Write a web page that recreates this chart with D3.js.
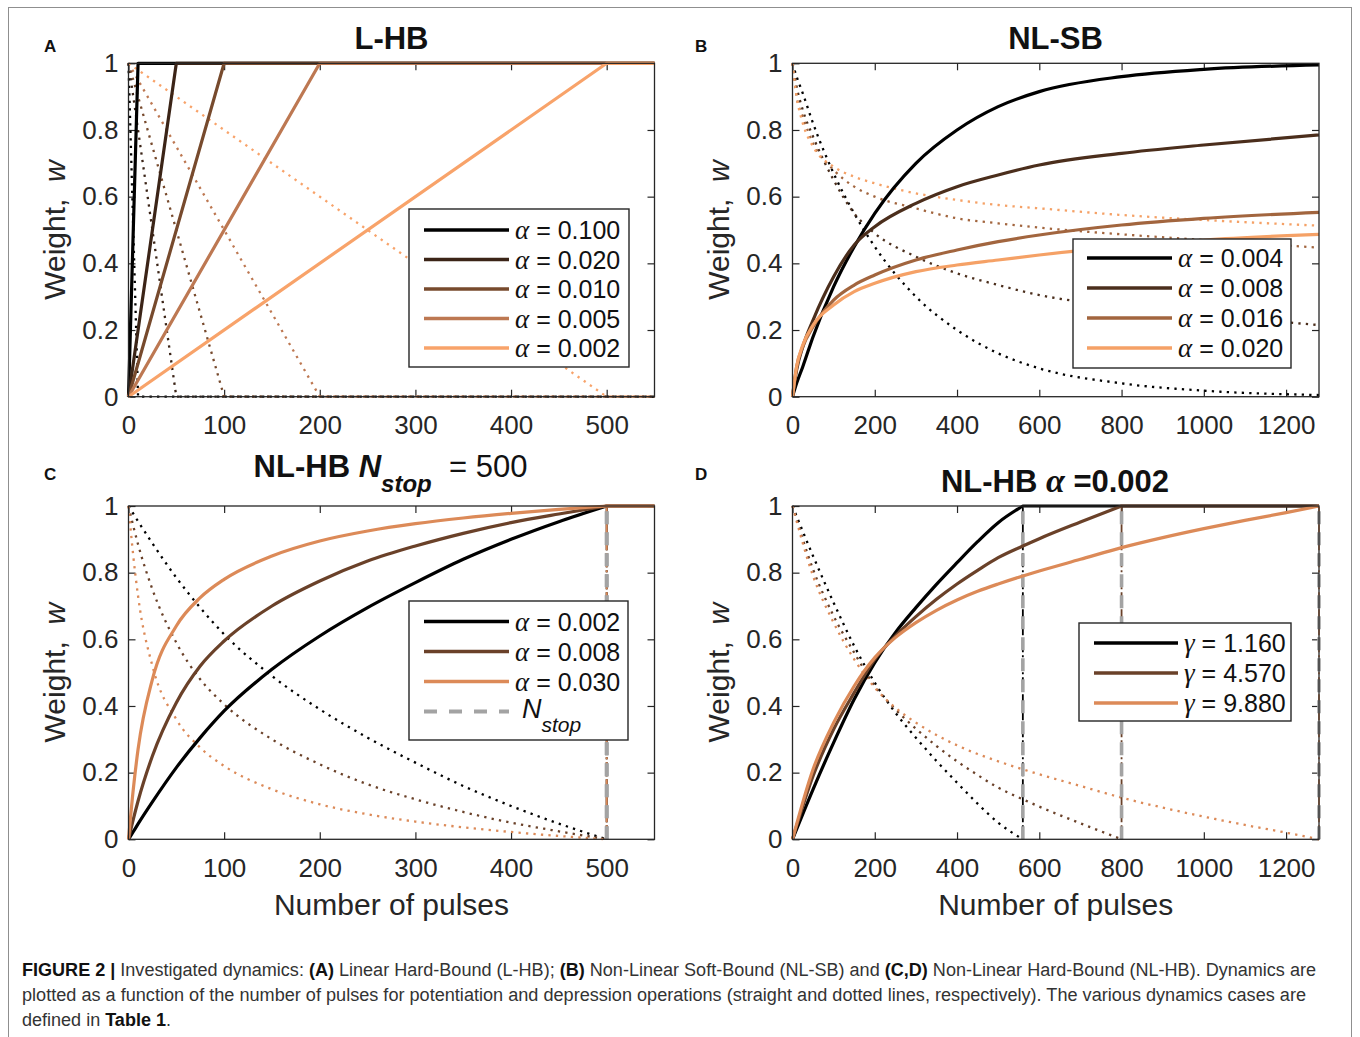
<!DOCTYPE html>
<html>
<head>
<meta charset="utf-8">
<script src="https://cdn.jsdelivr.net/npm/d3@7"></script>
<style>
  body { margin: 0; background: #fff; }
  svg { display: block; }
  text { font-family: "Liberation Sans", Arial, Helvetica, sans-serif; }
</style>
</head>
<body>
<svg id="fig" width="1360" height="1037"></svg>
<script>
// ---------- shared ticks ----------
const yTicks = [0, 0.2, 0.4, 0.6, 0.8, 1];
const shortXTicks = [0, 100, 200, 300, 400, 500];
const longXTicks = [0, 200, 400, 600, 800, 1000, 1200];
const shortXMax = 550;
const longXMax = 1280;

// ---------- (A) Linear Hard-Bound ----------
const lhbAlpha = ["0.100", "0.020", "0.010", "0.005", "0.002"];
const lhbPotentiation = [
  [[0, 0], [10, 1], [550, 1]],
  [[0, 0], [50, 1], [550, 1]],
  [[0, 0], [100, 1], [550, 1]],
  [[0, 0], [200, 1], [550, 1]],
  [[0, 0], [500, 1], [550, 1]]
];
const lhbDepression = [
  [[0, 1], [10, 0], [550, 0]],
  [[0, 1], [50, 0], [550, 0]],
  [[0, 1], [100, 0], [550, 0]],
  [[0, 1], [200, 0], [550, 0]],
  [[0, 1], [500, 0], [550, 0]]
];

// ---------- (B) Non-Linear Soft-Bound ----------
const nlsbAlpha = ["0.004", "0.008", "0.016", "0.020"];
const nlsbPulses = [0, 10, 25, 50, 100, 150, 200, 300, 400, 500, 600, 800, 1000, 1280];
const nlsbPot004 = [0, 0.04, 0.09, 0.18, 0.33, 0.45, 0.55, 0.70, 0.80, 0.87, 0.915, 0.96, 0.982, 0.995];
const nlsbPot008 = [0, 0.08, 0.15, 0.23, 0.36, 0.455, 0.51, 0.58, 0.63, 0.665, 0.695, 0.73, 0.755, 0.785];
const nlsbPot016 = [0, 0.09, 0.15, 0.21, 0.29, 0.335, 0.365, 0.41, 0.44, 0.465, 0.485, 0.515, 0.535, 0.553];
const nlsbPot020 = [0, 0.09, 0.155, 0.215, 0.275, 0.315, 0.34, 0.375, 0.395, 0.41, 0.425, 0.45, 0.47, 0.487];
const nlsbDep004 = [1, 0.96, 0.91, 0.82, 0.67, 0.55, 0.45, 0.30, 0.20, 0.13, 0.085, 0.04, 0.018, 0.005];
const nlsbDep008 = [1, 0.93, 0.86, 0.78, 0.65, 0.55, 0.49, 0.42, 0.37, 0.335, 0.305, 0.27, 0.245, 0.215];
const nlsbDep016 = [1, 0.90, 0.84, 0.76, 0.68, 0.63, 0.60, 0.565, 0.535, 0.52, 0.507, 0.487, 0.47, 0.447];
const nlsbDep020 = [1, 0.90, 0.82, 0.75, 0.69, 0.66, 0.64, 0.61, 0.59, 0.575, 0.565, 0.545, 0.53, 0.513];

// ---------- (C) Non-Linear Hard-Bound, N_stop = 500 ----------
const nstopValue = 500;
const nstopAlpha = ["0.002", "0.008", "0.030"];
const nstopPulses = [0, 5, 10, 25, 50, 75, 100, 150, 200, 250, 300, 350, 400, 450, 500, 550];
const nstopPot002 = [0, 0.023, 0.046, 0.112, 0.215, 0.305, 0.385, 0.51, 0.61, 0.695, 0.77, 0.84, 0.90, 0.953, 1, 1];
const nstopPot008 = [0, 0.06, 0.115, 0.25, 0.41, 0.52, 0.595, 0.70, 0.775, 0.835, 0.88, 0.918, 0.95, 0.976, 1, 1];
const nstopPot030 = [0, 0.15, 0.27, 0.48, 0.64, 0.725, 0.78, 0.85, 0.895, 0.925, 0.947, 0.964, 0.978, 0.99, 1, 1];
const nstopDep002 = [1, 0.977, 0.954, 0.888, 0.785, 0.695, 0.615, 0.49, 0.39, 0.305, 0.23, 0.16, 0.10, 0.047, 0, 0];
const nstopDep008 = [1, 0.94, 0.885, 0.75, 0.59, 0.48, 0.405, 0.30, 0.225, 0.165, 0.12, 0.082, 0.05, 0.024, 0, 0];
const nstopDep030 = [1, 0.85, 0.73, 0.52, 0.36, 0.275, 0.22, 0.15, 0.105, 0.075, 0.053, 0.036, 0.022, 0.01, 0, 0];

// ---------- (D) Non-Linear Hard-Bound, alpha = 0.002 ----------
const gammaValues = ["1.160", "4.570", "9.880"];
const gammaStops = [560, 800, 1280];
const gammaPulses = [0, 50, 100, 150, 200, 250, 300, 350, 400, 450, 500, 560, 600, 700, 800, 900, 1000, 1100, 1200, 1280];
const gammaPot116 = [0, 0.15, 0.29, 0.42, 0.53, 0.62, 0.695, 0.765, 0.83, 0.893, 0.95, 1, 1, 1, 1, 1, 1, 1, 1, 1];
const gammaPot457 = [0, 0.19, 0.33, 0.44, 0.54, 0.61, 0.668, 0.72, 0.766, 0.807, 0.845, 0.88, 0.902, 0.952, 1, 1, 1, 1, 1, 1];
const gammaPot988 = [0, 0.21, 0.35, 0.46, 0.545, 0.605, 0.65, 0.687, 0.718, 0.744, 0.766, 0.79, 0.805, 0.84, 0.875, 0.905, 0.932, 0.957, 0.98, 1];
const gammaDep116 = [1, 0.85, 0.71, 0.58, 0.47, 0.38, 0.305, 0.235, 0.17, 0.107, 0.05, 0, 0, 0, 0, 0, 0, 0, 0, 0];
const gammaDep457 = [1, 0.81, 0.67, 0.56, 0.46, 0.39, 0.332, 0.28, 0.234, 0.193, 0.155, 0.12, 0.098, 0.048, 0, 0, 0, 0, 0, 0];
const gammaDep988 = [1, 0.79, 0.65, 0.54, 0.455, 0.395, 0.35, 0.313, 0.282, 0.256, 0.234, 0.21, 0.195, 0.16, 0.125, 0.095, 0.068, 0.043, 0.02, 0];

// ---------- styling ----------
const AXIS = "#262626";
const lhbPalette = ["#000000", "#3b2417", "#774a2d", "#bd7852", "#f8a36a"];
const nlsbPalette = ["#000000", "#4b2e1c", "#a2653e", "#f5a166"];
const nlhbPalette = ["#000000", "#6a4129", "#dc8a58"];
const STOP_GREY = "#a3a3a3";
const TICK_FONT = 26;
const LABEL_FONT = 30;
const TITLE_FONT = 31;
const LEG_FONT = 25;

const svg = d3.select("#fig");
const zip = (xs, ys) => xs.map((v, i) => [v, ys[i]]);

// outer figure frame
svg.append("rect")
  .attr("x", 8.5).attr("y", 7.5).attr("width", 1343).attr("height", 1080)
  .attr("fill", "none").attr("stroke", "#8f8f8f").attr("stroke-width", 1);

const cols = [{ left: 128.5, right: 654.5 }, { left: 792.5, right: 1319 }];
const rows = [{ top: 63.3, bottom: 396.7 }, { top: 506, bottom: 839.3 }];

function makeAxes(col, row, xMax, xTicks, withXLabel) {
  const x = d3.scaleLinear().domain([0, xMax]).range([col.left, col.right]);
  const y = d3.scaleLinear().domain([0, 1]).range([row.bottom, row.top]);
  const g = svg.append("g");
  const yFmt = d => (d === 0 || d === 1) ? String(d) : d3.format(".1f")(d);

  const styleAxis = sel => {
    sel.select(".domain").remove();
    sel.selectAll(".tick line").attr("stroke", AXIS).attr("stroke-width", 1.2);
    sel.selectAll(".tick text").attr("fill", AXIS).attr("font-size", TICK_FONT)
      .attr("font-family", "'Liberation Sans', Arial, sans-serif");
  };
  g.append("g").attr("transform", `translate(0,${row.bottom})`)
    .call(d3.axisBottom(x).tickValues(xTicks).tickFormat(d3.format("d"))
      .tickSize(-7).tickPadding(19).tickSizeOuter(0))
    .call(styleAxis);
  g.append("g").attr("transform", `translate(0,${row.top})`)
    .call(d3.axisTop(x).tickValues(xTicks).tickSize(-7).tickFormat(() => "").tickSizeOuter(0))
    .call(styleAxis);
  g.append("g").attr("transform", `translate(${col.left},0)`)
    .call(d3.axisLeft(y).tickValues(yTicks).tickSize(-7).tickPadding(10).tickFormat(yFmt).tickSizeOuter(0))
    .call(styleAxis);
  g.append("g").attr("transform", `translate(${col.right},0)`)
    .call(d3.axisRight(y).tickValues(yTicks).tickSize(-7).tickFormat(() => "").tickSizeOuter(0))
    .call(styleAxis);

  // y label: "Weight,  w"
  const yl = g.append("text")
    .attr("transform", `translate(${col.left - 64},${(row.top + row.bottom) / 2}) rotate(-90)`)
    .attr("text-anchor", "middle").attr("font-size", LABEL_FONT).attr("fill", AXIS)
    .style("white-space", "pre");
  yl.append("tspan").text("Weight,  ");
  yl.append("tspan").attr("font-style", "italic").text("w");

  if (withXLabel) {
    g.append("text").attr("x", (col.left + col.right) / 2).attr("y", row.bottom + 76)
      .attr("text-anchor", "middle").attr("font-size", LABEL_FONT).attr("fill", AXIS)
      .text("Number of pulses");
  }
  const plot = svg.append("g");
  const frame = svg.append("g");
  frame.append("rect")
    .attr("x", col.left).attr("y", row.top)
    .attr("width", col.right - col.left).attr("height", row.bottom - row.top)
    .attr("fill", "none").attr("stroke", AXIS).attr("stroke-width", 1.3);
  return { x, y, g, plot, frame };
}

// A curve that reaches a bound (0 or 1) is smooth up to that point and flat afterwards.
function pathFor(ax, pts, curve) {
  const smooth = d3.line().x(d => ax.x(d[0])).y(d => ax.y(d[1])).curve(curve);
  const flat = d3.line().x(d => ax.x(d[0])).y(d => ax.y(d[1]));
  const bound = pts[0][1] === 0 ? 1 : 0;
  const k = pts.findIndex(d => d[1] === bound);
  if (k < 0 || k === pts.length - 1) return smooth(pts);
  return smooth(pts.slice(0, k + 1)) + flat([pts[k], pts[pts.length - 1]]).replace(/^M/, "L");
}

function drawLines(ax, seriesList, palette, dotted, curve) {
  seriesList.forEach((pts, i) => {
    ax.plot.append("path")
      .attr("d", pathFor(ax, pts, curve))
      .attr("fill", "none")
      .attr("stroke", palette[i])
      .attr("stroke-width", dotted ? 2.3 : 3.2)
      .attr("stroke-dasharray", dotted ? "2.3 5.2" : null)
      .attr("stroke-linejoin", "round");
  });
}

function drawStop(ax, xv, color) {
  ax.plot.append("line")
    .attr("x1", ax.x(xv)).attr("x2", ax.x(xv)).attr("y1", ax.y(0)).attr("y2", ax.y(1))
    .attr("stroke", color).attr("stroke-width", 1.8).attr("stroke-dasharray", "9 3 2 3");
  ax.plot.append("line")
    .attr("x1", ax.x(xv)).attr("x2", ax.x(xv)).attr("y1", ax.y(0)).attr("y2", ax.y(1))
    .attr("stroke", STOP_GREY).attr("stroke-width", 3.6).attr("stroke-dasharray", "13 8");
}

function drawLegend(box, entries, rowY0, step, lineX0, lineX1, textX) {
  const g = svg.append("g");
  g.append("rect").attr("x", box.x).attr("y", box.y).attr("width", box.w).attr("height", box.h)
    .attr("fill", "#fff").attr("stroke", AXIS).attr("stroke-width", 1.4);
  entries.forEach((e, i) => {
    const cy = rowY0 + i * step;
    g.append("line").attr("x1", lineX0).attr("x2", lineX1).attr("y1", cy).attr("y2", cy)
      .attr("stroke", e.color).attr("stroke-width", e.dash ? 4 : 3.4)
      .attr("stroke-dasharray", e.dash || null);
    const t = g.append("text").attr("x", textX).attr("y", cy + 9)
      .attr("font-size", LEG_FONT).attr("fill", "#111").style("white-space", "pre");
    if (e.sym) {
      t.append("tspan").attr("font-family", "'Liberation Serif', 'DejaVu Serif', serif")
        .attr("font-style", "italic").attr("font-size", LEG_FONT + 2).text(e.sym);
      t.append("tspan").text(" = " + e.value);
    } else {
      t.attr("x", textX + 7).attr("y", cy + 6);
      t.append("tspan").attr("font-style", "italic").attr("font-size", LEG_FONT + 2).text("N");
      t.append("tspan").attr("font-style", "italic").attr("font-size", LEG_FONT - 4)
        .attr("dy", 14).text("stop");
    }
  });
}

function panelLetter(x, y, s) {
  svg.append("text").attr("x", x).attr("y", y).attr("font-size", 17)
    .attr("font-weight", "bold").attr("fill", "#111").text(s);
}

// ===== Panel A =====
const axA = makeAxes(cols[0], rows[0], shortXMax, shortXTicks, false);
drawLines(axA, lhbDepression, lhbPalette, true, d3.curveLinear);
drawLines(axA, lhbPotentiation, lhbPalette, false, d3.curveLinear);
svg.append("text").attr("x", 391.5).attr("y", 48.5).attr("text-anchor", "middle")
  .attr("font-size", TITLE_FONT).attr("font-weight", "bold").attr("fill", "#111").text("L-HB");
panelLetter(44, 52, "A");
drawLegend({ x: 409, y: 209, w: 220, h: 158 },
  lhbAlpha.map((v, i) => ({ color: lhbPalette[i], sym: "α", value: v })),
  230, 29.5, 424, 509, 515);

// ===== Panel B =====
const axB = makeAxes(cols[1], rows[0], longXMax, longXTicks, false);
drawLines(axB, [nlsbDep004, nlsbDep008, nlsbDep016, nlsbDep020].map(v => zip(nlsbPulses, v)),
  nlsbPalette, true, d3.curveMonotoneX);
drawLines(axB, [nlsbPot004, nlsbPot008, nlsbPot016, nlsbPot020].map(v => zip(nlsbPulses, v)),
  nlsbPalette, false, d3.curveMonotoneX);
svg.append("text").attr("x", 1055.5).attr("y", 48.5).attr("text-anchor", "middle")
  .attr("font-size", TITLE_FONT).attr("font-weight", "bold").attr("fill", "#111").text("NL-SB");
panelLetter(695, 52, "B");
drawLegend({ x: 1073, y: 239, w: 218, h: 129 },
  nlsbAlpha.map((v, i) => ({ color: nlsbPalette[i], sym: "α", value: v })),
  258, 30, 1087, 1172, 1178);

// ===== Panel C =====
const axC = makeAxes(cols[0], rows[1], shortXMax, shortXTicks, true);
const keepTo = (pts, lim) => pts.filter(d => d[0] <= lim);
drawLines(axC, [nstopDep002, nstopDep008, nstopDep030].map(v => keepTo(zip(nstopPulses, v), nstopValue)),
  nlhbPalette, true, d3.curveMonotoneX);
nlhbPalette.forEach(c => drawStop(axC, nstopValue, c));
drawLines(axC, [nstopPot002, nstopPot008, nstopPot030].map(v => zip(nstopPulses, v)),
  nlhbPalette, false, d3.curveMonotoneX);
{
  const t = svg.append("text").attr("x", 390.5).attr("y", 477).attr("text-anchor", "middle")
    .attr("font-size", TITLE_FONT).attr("fill", "#111").style("white-space", "pre");
  t.append("tspan").attr("font-weight", "bold").text("NL-HB ");
  t.append("tspan").attr("font-weight", "bold").attr("font-style", "italic").text("N");
  t.append("tspan").attr("font-weight", "bold").attr("font-style", "italic")
    .attr("font-size", 24).attr("dy", 15).text("stop");
  t.append("tspan").attr("dy", -15).text("  = " + nstopValue);
}
panelLetter(44, 480, "C");
drawLegend({ x: 409, y: 601, w: 219, h: 139 },
  nstopAlpha.map((v, i) => ({ color: nlhbPalette[i], sym: "α", value: v }))
    .concat([{ color: STOP_GREY, dash: "13 12" }]),
  621.5, 30, 424, 509, 515);

// ===== Panel D =====
const axD = makeAxes(cols[1], rows[1], longXMax, longXTicks, true);
drawLines(axD, [gammaDep116, gammaDep457, gammaDep988].map((v, i) => keepTo(zip(gammaPulses, v), gammaStops[i])),
  nlhbPalette, true, d3.curveMonotoneX);
gammaStops.forEach((s, i) => drawStop(axD, s, nlhbPalette[i]));
drawLines(axD, [gammaPot116, gammaPot457, gammaPot988].map(v => zip(gammaPulses, v)),
  nlhbPalette, false, d3.curveMonotoneX);
{
  const t = svg.append("text").attr("x", 1055).attr("y", 492).attr("text-anchor", "middle")
    .attr("font-size", TITLE_FONT).attr("font-weight", "bold").attr("fill", "#111")
    .style("white-space", "pre");
  t.append("tspan").text("NL-HB ");
  t.append("tspan").attr("font-family", "'Liberation Serif', 'DejaVu Serif', serif")
    .attr("font-style", "italic").attr("font-size", TITLE_FONT + 3).text("α");
  t.append("tspan").text(" =0.002");
}
panelLetter(695, 480, "D");
drawLegend({ x: 1079, y: 623, w: 212, h: 98 },
  gammaValues.map((v, i) => ({ color: nlhbPalette[i], sym: "γ", value: v })),
  643, 30, 1094, 1178, 1184);

// ===== caption =====
const captionLines = [
  [["FIGURE 2 | ", true], ["Investigated dynamics: ", false], ["(A)", true], [" Linear Hard-Bound (L-HB); ", false],
   ["(B)", true], [" Non-Linear Soft-Bound (NL-SB) and ", false], ["(C,D)", true],
   [" Non-Linear Hard-Bound (NL-HB). Dynamics are", false]],
  [["plotted as a function of the number of pulses for potentiation and depression operations (straight and dotted lines, respectively). The various dynamics cases are", false]],
  [["defined in ", false], ["Table 1", true], [".", false]]
];
const captionWidths = [1294, 1284, 149];
captionLines.forEach((parts, i) => {
  const t = svg.append("text").attr("x", 22).attr("y", 976 + i * 25)
    .attr("font-size", 18).attr("fill", "#333").style("white-space", "pre")
    .attr("textLength", captionWidths[i]).attr("lengthAdjust", "spacingAndGlyphs");
  parts.forEach(([s, b]) => {
    t.append("tspan").attr("font-weight", b ? "bold" : null).attr("fill", b ? "#111" : null).text(s);
  });
});
</script>
</body>
</html>
